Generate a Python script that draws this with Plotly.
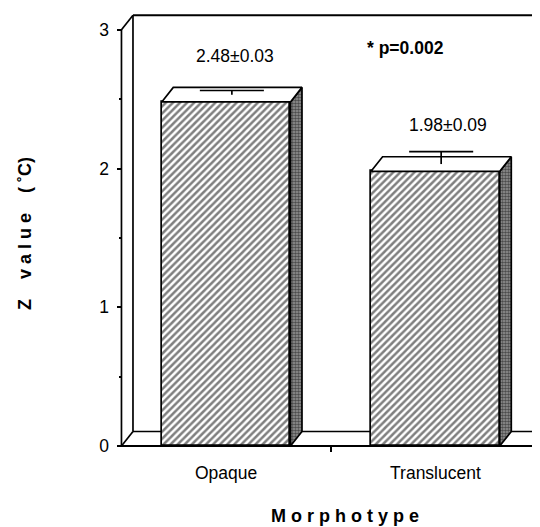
import plotly.graph_objects as go

# ---- data ----
categories = ["Opaque", "Translucent"]
z_values = [2.48, 1.98]
z_errors = [0.03, 0.09]
value_labels = ["2.48±0.03", "1.98±0.09"]
y_ticks = [0, 1, 2, 3]
y_minor_ticks = [0.5, 1.5, 2.5]
p_label = "* p=0.002"

# ---- geometry (style) ----
OFF = 8                      # page body margin shifts the figure
W, H = 540, 527
# target plot area in window pixels: x 111..(beyond right edge), y 9..453
ML, MT = 111 - OFF, 9 - OFF
MR = 0
MB = H - (453 - OFF)
PW, PH = W - ML - MR, H - MT - MB
X_UNIT = 209.3               # pixels per category unit
X_LO = -0.55
X_HI = X_LO + PW / X_UNIT


def px(x):  # window pixel -> paper fraction (x)
    return (x - OFF - ML) / PW


def py(y):  # window pixel (from top) -> paper fraction (y)
    return (H - MB - (y - OFF)) / PH


xpos = list(range(len(categories)))
bar_w = 0.615
dx, dy = 0.055, 0.105          # pseudo-3D depth offset in data units
cap_hw = 0.153
FONT = "Liberation Sans, Arial, sans-serif"
LW = 1.7

fig = go.Figure()

# front faces of bars
fig.add_trace(go.Bar(
    x=xpos, y=z_values, width=bar_w,
    marker=dict(color="white",
                line=dict(color="black", width=LW),
                pattern=dict(shape="/", fgcolor="black", bgcolor="white",
                             size=5, solidity=0.5)),
    hoverinfo="skip", showlegend=False,
))

for c, v, e in zip(xpos, z_values, z_errors):
    x0, x1 = c - bar_w / 2, c + bar_w / 2
    # side face (stippled)
    fig.add_trace(go.Scatter(
        x=[x1, x1, x1 + dx, x1 + dx, x1],
        y=[0, v, v + dy, dy, 0],
        mode="lines", fill="toself", fillcolor="#666",
        fillpattern=dict(shape=".", fgcolor="black", bgcolor="#999999",
                         size=3, solidity=0.6),
        line=dict(color="black", width=LW),
        hoverinfo="skip", showlegend=False,
    ))
    # top face
    fig.add_trace(go.Scatter(
        x=[x0, x1, x1 + dx, x0 + dx, x0],
        y=[v, v, v + dy, v + dy, v],
        mode="lines", fill="toself", fillcolor="white",
        line=dict(color="black", width=LW),
        hoverinfo="skip", showlegend=False,
    ))
    # error bar at mid depth
    xm = c + dx / 2
    fig.add_trace(go.Scatter(
        x=[xm, xm, None, xm - cap_hw, xm + cap_hw],
        y=[v + dy / 2, v + e + dy / 2, None, v + e + dy / 2, v + e + dy / 2],
        mode="lines", line=dict(color="black", width=LW),
        hoverinfo="skip", showlegend=False,
    ))

line_style = dict(color="black", width=LW)
shapes = [
    # back wall / floor (behind bars)
    dict(type="line", x0=-0.5 + dx, x1=-0.5 + dx, y0=dy, y1=3 + dy, layer="below", line=line_style),
    dict(type="line", x0=-0.5 + dx, x1=X_HI, y0=3 + dy, y1=3 + dy, layer="below", line=dict(color="black", width=2)),
    dict(type="line", x0=-0.5, x1=-0.5 + dx, y0=3, y1=3 + dy, layer="below", line=line_style),
    dict(type="line", x0=-0.5 + dx, x1=X_HI, y0=dy, y1=dy, layer="below", line=line_style),
    dict(type="line", x0=-0.5, x1=-0.5 + dx, y0=0, y1=dy, layer="below", line=line_style),
    # front axes
    dict(type="line", x0=-0.5, x1=-0.5, y0=0, y1=3, layer="above", line=line_style),
    dict(type="line", x0=-0.5, x1=X_HI, y0=0, y1=0, layer="above", line=dict(color="black", width=2)),
]

annotations = [
    dict(x=0.042, y=2.81, xref="x", yref="y", text=value_labels[0], showarrow=False,
         xanchor="center", yanchor="middle",
         font=dict(family=FONT, size=17.5, color="black")),
    dict(x=1.06, y=2.314, xref="x", yref="y", text=value_labels[1], showarrow=False,
         xanchor="center", yanchor="middle",
         font=dict(family=FONT, size=17.5, color="black")),
    dict(x=0.859, y=2.87, xref="x", yref="y", text="<b>" + p_label + "</b>", showarrow=False,
         xanchor="center", yanchor="middle",
         font=dict(family=FONT, size=17.5, color="black")),
    dict(x=px(345), y=py(516), xref="paper", yref="paper",
         xanchor="center", yanchor="middle",
         text="<b>" + "\u00a0".join("Morphotype") + "</b>", showarrow=False,
         font=dict(family=FONT, size=18, color="black")),
    dict(x=px(25), y=py(234), xref="paper", yref="paper", textangle=-90,
         xanchor="center", yanchor="middle",
         text="<b>Z\u00a0\u00a0\u00a0\u00a0" + "\u00a0".join("value") + "\u00a0\u00a0\u00a0\u00a0(\u00a0˚C)</b>",
         showarrow=False, font=dict(family=FONT, size=18, color="black")),
]

fig.update_layout(
    width=W, height=H,
    margin=dict(l=ML, r=MR, t=MT, b=MB, autoexpand=False),
    paper_bgcolor="white", plot_bgcolor="white",
    font=dict(family=FONT, size=17.5, color="black"),
    shapes=shapes, annotations=annotations,
    bargap=0,
    xaxis=dict(range=[X_LO, X_HI], showgrid=False, zeroline=False, showline=False,
               automargin=False,
               tickmode="array", tickvals=xpos, ticktext=categories, ticks="",
               ticklabelstandoff=14,
               minor=dict(tickmode="array", tickvals=[0.5, 1.5], ticks="outside",
                          ticklen=5, tickwidth=1.5, tickcolor="black"),
               anchor="free", position=py(446.1),
               tickfont=dict(family=FONT, size=17.5, color="black")),
    yaxis=dict(range=[-0.05, 3.15], showgrid=False, zeroline=False, showline=False,
               automargin=False,
               tickmode="array", tickvals=y_ticks, ticks="outside", ticklen=5,
               tickwidth=1.5, tickcolor="black", ticklabelstandoff=4,
               minor=dict(tickmode="array", tickvals=y_minor_ticks, ticks="outside",
                          ticklen=3, tickwidth=1.5, tickcolor="black"),
               anchor="free", position=px(121.5),
               tickfont=dict(family=FONT, size=17.5, color="black")),
)

fig.write_html("out.html")
